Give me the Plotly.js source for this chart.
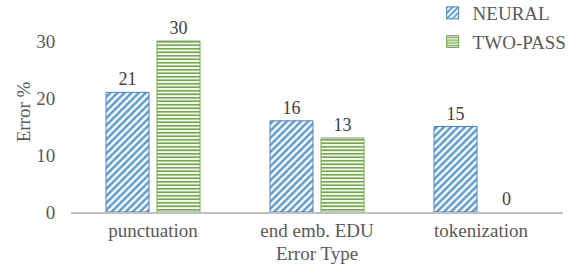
<!DOCTYPE html>
<html><head><meta charset="utf-8">
<script src="https://cdn.plot.ly/plotly-3.0.1.min.js"></script>
<style>html,body{margin:0;padding:0;background:#fff}#c{width:572px;height:267px}</style>
</head><body><div id="c"></div>
<script>
const categories = ["punctuation", "end emb. EDU", "tokenization"];
const neural = [21, 16, 15];
const twoPass = [30, 13, 0];
const seriesNames = ["NEURAL", "TWO-PASS"];
const yTicks = [0, 10, 20, 30];

const FAM = "'Liberation Serif', 'Times New Roman', serif";
const font = {family: FAM, size: 19, color: "#595959"};
const traces = [
  {type: "bar", name: seriesNames[0], x: categories, y: neural, text: neural.map(String),
   textposition: "outside", cliponaxis: false, legendgroup: "a",
   textfont: {family: FAM, size: 18, color: "#404040"},
   marker: {color: "#ffffff", line: {color: "#4F81BD", width: neural.map(v => v === 0 ? 0 : 1)},
     pattern: {shape: "/", fgcolor: "#5B9BD5", bgcolor: "#ffffff", size: 5, solidity: 0.5}}},
  {type: "bar", name: seriesNames[1], x: categories, y: twoPass, text: twoPass.map(String),
   textposition: "outside", cliponaxis: false, legendgroup: "b",
   textfont: {family: FAM, size: 18, color: "#404040"},
   marker: {color: "#ffffff", line: {color: "#70AD47", width: twoPass.map(v => v === 0 ? 0 : 1)},
     pattern: {shape: "-", fgcolor: "#70AD47", bgcolor: "#ffffff", size: 3.5, solidity: 0.5}}}
];
const layout = {
  width: 572, height: 267,
  margin: {l: 71, r: 9, t: 12, b: 55, autoexpand: false},
  paper_bgcolor: "#fff", plot_bgcolor: "#fff",
  font: font,
  barmode: "group", bargap: 0.378, bargroupgap: 0.157,
  showlegend: true,
  legend: {x: 0.735, y: 1.09, xanchor: "left", yanchor: "top", bgcolor: "rgba(0,0,0,0)",
    font: {family: FAM, size: 19, color: "#595959"}, traceorder: "grouped", tracegroupgap: 1,
    itemwidth: 30},
  xaxis: {showline: true, linecolor: "#BFBFBF", linewidth: 2, ticks: "", showgrid: false, automargin: false,
    tickfont: font, title: {text: "Error Type", font: font, standoff: 7}, fixedrange: true},
  yaxis: {range: [0, 35.1], tickvals: yTicks, showgrid: false, zeroline: false, showline: false, automargin: false,
    ticks: "outside", ticklen: 11, tickcolor: "rgba(0,0,0,0)", tickfont: font,
    title: {text: "Error %", font: font, standoff: 0}, fixedrange: true}
};
Plotly.newPlot("c", traces, layout, {staticPlot: true});
</script></body></html>
